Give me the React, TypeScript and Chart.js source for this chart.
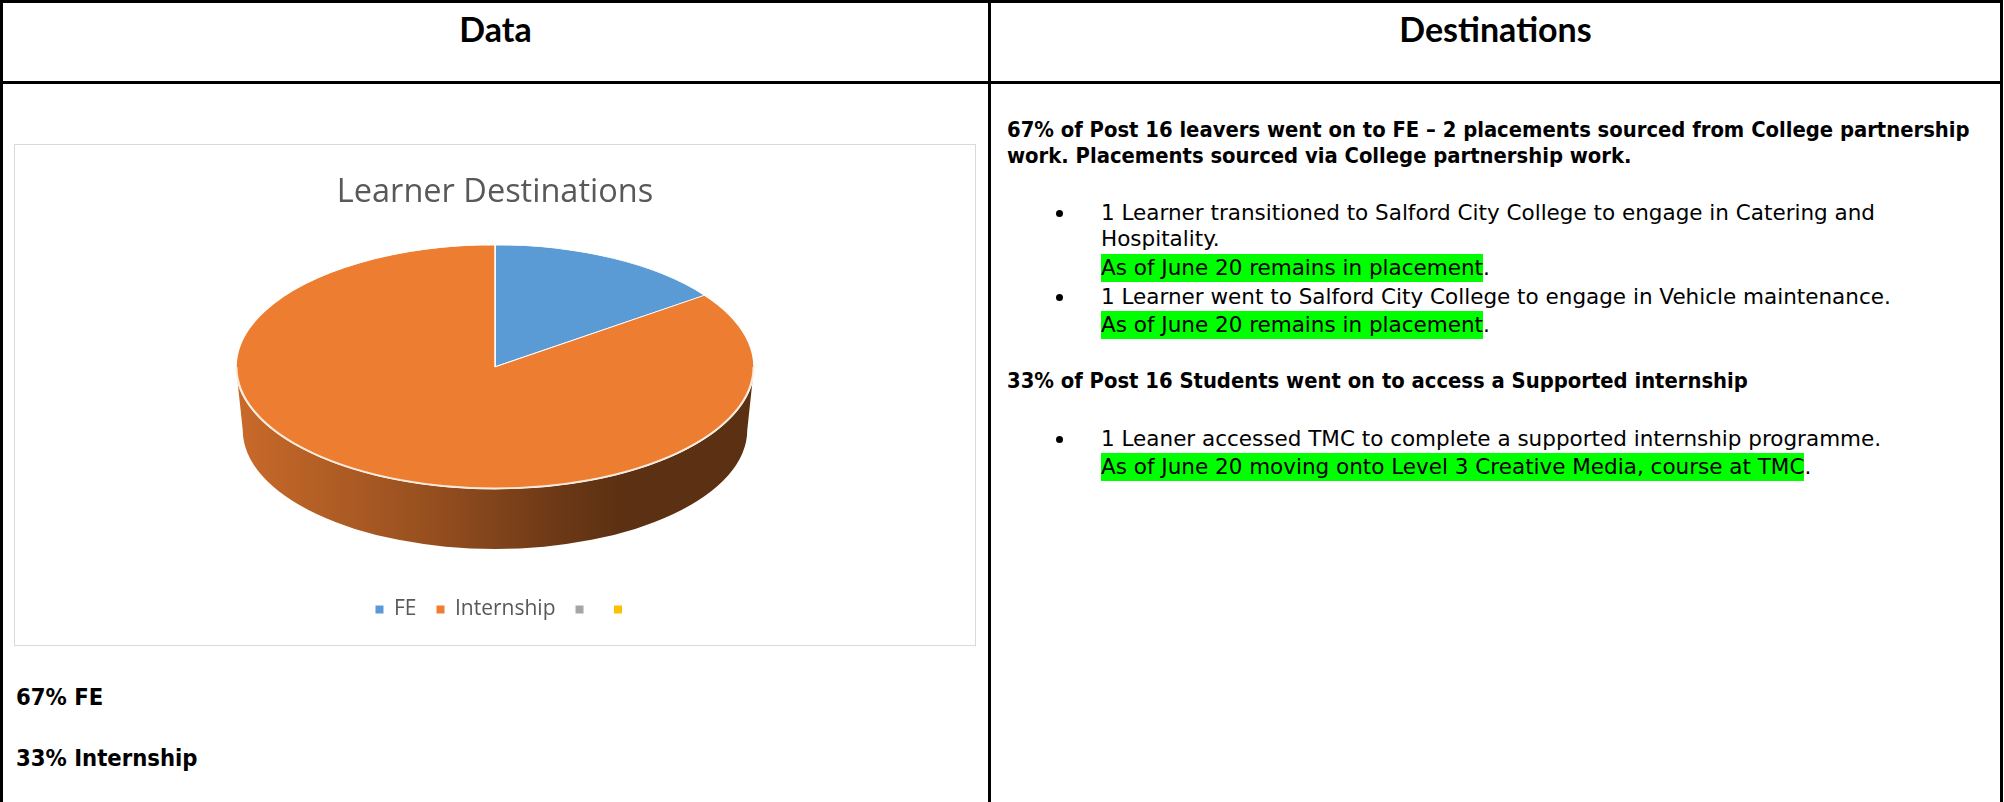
import React, { useEffect, useRef } from "react";
import { Chart, registerables } from "chart.js";

Chart.register(...registerables);

// ---------- data ----------
const categories = ["FE", "Internship", "", ""];
const values = [15, 85, 0, 0];
const sliceColors = ["#5b9bd5", "#ed7d31", "#a5a5a5", "#ffc000"];
const chartTitle = "Learner Destinations";

const headerLeft = "Data";
const headerRight = "Destinations";
const summaryLines = ["67% FE", "33% Internship"];

// ---------- 3D look ----------
const TILT = 0.471; // vertical squash of the top face
const DEPTH = 0.244; // wall height relative to radius
const BASE_SCALE = 0.974; // perspective shrink of the base
const LEGEND_SHIFT = 9; // legend sits slightly right of the pie centre
const SIDE_STOPS: [number, number][] = [
  [0, 0.85],
  [0.35, 0.65],
  [0.63, 0.45],
  [0.74, 0.39],
  [1, 0.39],
];

function shade(hex: string, f: number) {
  const n = parseInt(hex.slice(1), 16);
  const r = Math.round(((n >> 16) & 255) * f);
  const g = Math.round(((n >> 8) & 255) * f);
  const b = Math.round((n & 255) * f);
  return `rgb(${r},${g},${b})`;
}

const pie3d = {
  id: "pie3d",
  afterLayout(chart: any) {
    if (chart.legend) {
      chart.legend.left += LEGEND_SHIFT;
      chart.legend.right += LEGEND_SHIFT;
    }
  },
  beforeDatasetsDraw(chart: any) {
    const meta = chart.getDatasetMeta(0);
    const arcs = meta.data;
    if (!arcs.length) return;
    const { x: cx, y: cyc, outerRadius: R } = arcs[0].getProps(["x", "y", "outerRadius"], true);
    const ry = R * TILT;
    const D = R * DEPTH;
    const ecy = cyc - D / 2;
    const ctx = chart.ctx;
    ctx.save();
    arcs.forEach((arc: any, i: number) => {
      const { startAngle, endAngle } = arc.getProps(["startAngle", "endAngle"], true);
      if (endAngle - startAngle <= 1e-6) return;
      const color = sliceColors[i];
      for (const k of [-2, 0, 2]) {
        const lo = Math.max(startAngle, k * Math.PI);
        const hi = Math.min(endAngle, (k + 1) * Math.PI);
        if (hi <= lo) continue;
        const grad = ctx.createLinearGradient(cx - R, 0, cx + R, 0);
        SIDE_STOPS.forEach(([p, f]) => grad.addColorStop(p, shade(color, f)));
        ctx.beginPath();
        ctx.ellipse(cx, ecy, R, ry, 0, lo, hi, false);
        ctx.ellipse(cx, ecy + D, R * BASE_SCALE, ry * BASE_SCALE, 0, hi, lo, true);
        ctx.closePath();
        ctx.fillStyle = grad;
        ctx.fill();
      }
    });
    ctx.restore();
    ctx.save();
    ctx.translate(0, ecy);
    ctx.scale(1, TILT);
    ctx.translate(0, -cyc);
  },
  afterDatasetsDraw(chart: any) {
    const ctx = chart.ctx;
    ctx.restore();
    const arcs = chart.getDatasetMeta(0).data;
    if (!arcs.length) return;
    const { x: cx, y: cyc, outerRadius: R } = arcs[0].getProps(["x", "y", "outerRadius"], true);
    const ry = R * TILT;
    const D = R * DEPTH;
    const ecy = cyc - D / 2;
    ctx.save();
    ctx.beginPath();
    ctx.ellipse(cx, ecy, R - 0.5, ry - 0.5, 0, 0, Math.PI, false);
    ctx.strokeStyle = "rgba(250,236,222,0.95)";
    ctx.lineWidth = 2;
    ctx.stroke();
    ctx.restore();
  },
};

const regFont = "'DejaVu Sans', sans-serif";
const boldFont = "'DejaVu Sans Condensed', 'DejaVu Sans', sans-serif";
const GREEN = "#00ff00";

function Row({ y, x, bold, size, children }: any) {
  return (
    <div
      style={{
        position: "absolute",
        left: x,
        top: y - 14,
        height: 28,
        lineHeight: "28px",
        whiteSpace: "nowrap",
        fontFamily: bold ? boldFont : regFont,
        fontStretch: bold ? "condensed" : "normal",
        fontSize: size || (bold ? 21.8 : 21.5),
        fontWeight: bold ? 700 : 400,
        color: "#000",
      }}
    >
      {children}
    </div>
  );
}

function Hi({ children }: any) {
  return (
    <span style={{ display: "inline-block", height: 28, background: GREEN }}>{children}</span>
  );
}

function Bullet({ y }: any) {
  return (
    <div
      style={{
        position: "absolute",
        left: 1056,
        top: y - 3,
        width: 7,
        height: 7,
        borderRadius: "50%",
        background: "#000",
      }}
    />
  );
}

export default function App() {
  const canvasRef = useRef<HTMLCanvasElement>(null);

  useEffect(() => {
    const chart = new Chart(canvasRef.current!, {
      type: "pie",
      data: {
        labels: categories,
        datasets: [
          {
            data: values,
            backgroundColor: sliceColors,
            borderColor: "#ffffff",
            borderWidth: 1.5,
            clip: false as any,
          } as any,
        ],
      },
      options: {
        responsive: false,
        animation: false,
        radius: 259,
        layout: { padding: { top: 0, bottom: 15, left: 0, right: 0 } },
        plugins: {
          tooltip: { enabled: false },
          title: {
            display: true,
            text: chartTitle,
            color: "#595959",
            font: { family: "'Open Sans'", size: 32.5, weight: "normal" as any },
            padding: { top: 28, bottom: 6 },
          },
          legend: {
            display: true,
            position: "bottom",
            labels: {
              boxWidth: 8,
              boxHeight: 8,
              padding: 20,
              color: "#595959",
              font: { family: "'Open Sans'", size: 21 },
              generateLabels: (c: any) =>
                c.data.labels.map((l: string, i: number) => ({
                  text: l,
                  fillStyle: sliceColors[i],
                  strokeStyle: sliceColors[i],
                  lineWidth: 0,
                  hidden: false,
                  index: i,
                  fontColor: "#595959",
                })),
            },
          },
        },
      } as any,
      plugins: [pie3d],
    });
    return () => chart.destroy();
  }, []);

  const black = "#000";
  return (
    <div
      style={{
        position: "absolute",
        left: 0,
        top: 0,
        width: 2004,
        height: 802,
        background: "#fff",
        overflow: "hidden",
      }}
    >
      {/* table lines */}
      <div style={{ position: "absolute", left: 0, top: 0, width: 2003, height: 3, background: black }} />
      <div style={{ position: "absolute", left: 0, top: 81, width: 2003, height: 3, background: black }} />
      <div style={{ position: "absolute", left: 0, top: 0, width: 3, height: 802, background: black }} />
      <div style={{ position: "absolute", left: 988, top: 0, width: 3, height: 802, background: black }} />
      <div style={{ position: "absolute", left: 2000, top: 0, width: 3, height: 802, background: black }} />

      {/* headers */}
      <div
        style={{
          position: "absolute",
          left: 3,
          top: 0,
          width: 985,
          height: 58,
          lineHeight: "58px",
          textAlign: "center",
          fontFamily: "Lato",
          fontWeight: 700,
          fontSize: 34,
        }}
      >
        {headerLeft}
      </div>
      <div
        style={{
          position: "absolute",
          left: 991,
          top: 0,
          width: 1009,
          height: 58,
          lineHeight: "58px",
          textAlign: "center",
          fontFamily: "Lato",
          fontWeight: 700,
          fontSize: 34,
        }}
      >
        {headerRight}
      </div>

      {/* chart box */}
      <div
        style={{
          position: "absolute",
          left: 14,
          top: 144,
          width: 960,
          height: 500,
          border: "1px solid #d9d9d9",
          background: "#fff",
        }}
      >
        <canvas ref={canvasRef} width={960} height={500} style={{ display: "block" }} />
      </div>

      {/* summary */}
      <Row y={697} x={16} bold size={23.6}>
        {summaryLines[0]}
      </Row>
      <Row y={758} x={16} bold size={23.6}>
        {summaryLines[1]}
      </Row>

      {/* destinations text */}
      <Row y={130} x={1007} bold>
        67% of Post 16 leavers went on to FE – 2 placements sourced from College partnership
      </Row>
      <Row y={156} x={1007} bold>
        work. Placements sourced via College partnership work.
      </Row>

      <Bullet y={213} />
      <Row y={213} x={1101}>
        1 Learner transitioned to Salford City College to engage in Catering and
      </Row>
      <Row y={239} x={1101}>
        Hospitality.
      </Row>
      <Row y={268} x={1101}>
        <Hi>As of June 20 remains in placement</Hi>.
      </Row>
      <Bullet y={297} />
      <Row y={297} x={1101}>
        1 Learner went to Salford City College to engage in Vehicle maintenance.
      </Row>
      <Row y={325} x={1101}>
        <Hi>As of June 20 remains in placement</Hi>.
      </Row>

      <Row y={381} x={1007} bold>
        33% of Post 16 Students went on to access a Supported internship
      </Row>

      <Bullet y={439} />
      <Row y={439} x={1101}>
        1 Leaner accessed TMC to complete a supported internship programme.
      </Row>
      <Row y={467} x={1101}>
        <Hi>As of June 20 moving onto Level 3 Creative Media, course at TMC</Hi>.
      </Row>
    </div>
  );
}
